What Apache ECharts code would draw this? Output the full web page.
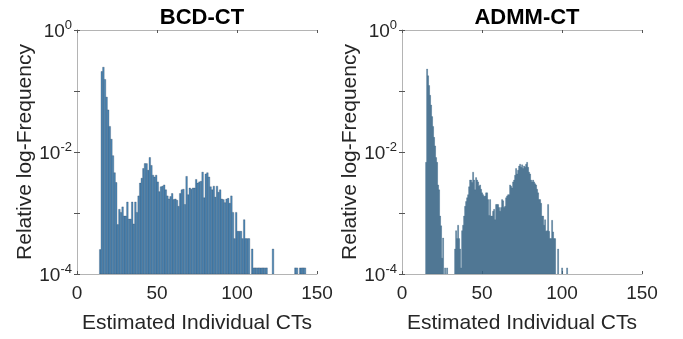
<!DOCTYPE html>
<html>
<head>
<meta charset="utf-8">
<script src="https://cdn.jsdelivr.net/npm/echarts@6/dist/echarts.min.js"></script>
<style>
html,body{margin:0;padding:0;background:#fff;}
#c{width:683px;height:339px;}
</style>
</head>
<body>
<div id="c"></div>
<script>
// ---- Data ----
const titles = ['BCD-CT', 'ADMM-CT'];
const xTickValues = [0, 50, 100, 150];
const yTickExponents = [0, -2, -4];

// BCD-CT histogram: bins of width 1 starting at 14, values = log10(relative frequency), null = empty bin
const bcdBinStart = 14;
const bcdBinWidth = 1;
const bcdLog10Freq = [
  -3.6, -0.68, -0.61, -0.81, -1.10, -1.31, -1.58, -1.79, -2.06, -2.34, -2.50, -3.19, // 14-25
  -2.94, -2.99, -2.90, -3.05, -3.05, -2.82, -3.10, -3.10, -2.82, -3.18,              // 26-35
  -2.82, -2.99, -2.72, -2.51, -2.43, -2.27, -2.19, -2.19, -2.30, -2.09,              // 36-45
  -2.22, -2.38, -2.41, -2.38, -2.49,                                                 // 46-50
  -2.65, -2.57, -2.56, -2.54, -2.62, -2.72, -2.77, -2.73, -2.68, -2.78,              // 51-60
  -2.77, -2.79, -2.89, -2.68, -2.62, -2.61, -2.86, -2.40, -2.70, -2.59,              // 61-70
  -2.61, -2.59, -2.59, -2.45, -2.51, -2.49, -2.48, -2.33, -2.75, -2.36,              // 71-80
  -2.34, -2.41, -2.57, -2.62, -2.56, -2.74,                                          // 81-86
  -2.56, -2.66, -2.62, -2.77, -2.78, -2.83, -2.77, -2.76, -2.84, -2.72,              // 87-96
  -2.99, -3.42, -2.99, -3.30, -3.30, -3.30, -3.42, -3.11, -3.42, -3.42, -3.42,       // 97-107
  null, -3.59, -3.9, -3.9, -3.9, -3.9, -3.9, -3.9, -3.9, -3.9, -3.9,                 // 108-118
  null, null, null, -3.59,                                                           // 119-122
  null, null, null, null, null, null, null, null, null, null, null, null, null,      // 123-135
  -3.9, -3.9, null, -3.9, -3.9, -3.9, -3.9                                           // 136-142
];

// ADMM-CT histogram: bins of width 0.625 starting at 14.75
const admmBinStart = 14.75;
const admmBinWidth = 0.625;
const admmLog10Freq = [
  -2.17, -0.64, -0.75, -0.91, -1.07, -1.23, -1.42, -1.58, -1.76, -1.90,   // 0-9
  -2.09, -2.17, -2.54, -2.62, -3.05, -3.21, -3.74, -3.41, null, -3.9,      // 10-19
  null, -3.9, null, null, null, null, null, null, null,                    // 20-28
  -3.59, -3.29, -3.42, -3.20, -3.42, -3.59, -3.90, -3.29, -3.20, -3.05,    // 29-38
  -2.89, -2.81, -2.75, -2.70, -2.57, -2.46,                                // 39-44
  -2.46, -2.50, -2.33, -2.46, -2.62, -2.42, -2.46, -2.49, -2.56, -2.54,    // 45-54
  -2.61, -2.67, -2.70, -2.73, -2.72, -2.67, -2.67, -2.78, -3.04, -2.78,    // 55-64
  -3.05, -3.05, -2.97, -2.94, -3.11, -2.86, -2.86, -2.86, -2.91, -2.97,    // 65-74
  -2.91, -2.78, -2.80, -2.91, -2.89, -2.75, -2.72, -2.70, -2.70,           // 75-83
  -2.54, -2.56, -2.59, -2.49, -2.46, -2.38, -2.27, -2.36, -2.30, -2.23,    // 84-93
  -2.20, -2.25, -2.21, -2.27, -2.23, -2.25, -2.20, -2.17, -2.25, -2.33,    // 94-103
  -2.36, -2.46, -2.49, -2.46, -2.49, -2.52, -2.54, -2.61, -2.67, -2.78,    // 104-113
  -2.78, -2.84, -3.05, -3.05, -3.20, -3.11, -3.30, -3.29, -2.86, -3.30,    // 114-123
  -3.42, -3.42, -3.12, -3.31, -3.42, -3.42, null, null, -3.59, null,       // 124-133
  null, null, -3.9, null, null, null, null, -3.9                           // 134-141
];

// ---- Build ----
function toBins(start, width, logs) {
  const out = [];
  logs.forEach((e, i) => {
    if (e === null) return;
    const x0 = start + i * width;
    out.push([x0, x0 + width, Math.pow(10, e)]);
  });
  return out;
}

const YMIN = 1e-4, YMAX = 1;
const txt = '#262626';
const boxColor = '#b4b4b4';
const font = 'Liberation Sans, Arial, Helvetica, sans-serif';

const grids = [
  { left: 77, top: 30, width: 240, height: 249 },
  { left: 402, top: 30, width: 240, height: 249 }
];

function makeRender(fill, stroke, lw) {
  return function (params, api) {
    const x0 = api.value(0), x1 = api.value(1), v = api.value(2);
    const p0 = api.coord([x0, v]);
    const p1 = api.coord([x1, YMIN]);
    return {
      type: 'rect',
      shape: { x: p0[0], y: p0[1], width: p1[0] - p0[0], height: p1[1] - p0[1] },
      style: { fill: fill, stroke: stroke, lineWidth: lw }
    };
  };
}

const xAxes = [], yAxes = [];
for (let g = 0; g < 2; g++) {
  xAxes.push({
    type: 'value', gridIndex: g, min: 0, max: 150, interval: 50, position: 'bottom',
    name: 'Estimated Individual CTs', nameLocation: 'middle', nameGap: 39,
    nameTextStyle: { color: txt, fontSize: 21, fontFamily: font },
    axisLine: { show: true, lineStyle: { color: boxColor, width: 1 } },
    axisTick: { show: true, inside: true, length: 3, lineStyle: { color: '#555' } },
    axisLabel: { color: txt, fontSize: 19, fontFamily: font, margin: 10,
      formatter: v => (xTickValues.indexOf(v) >= 0 ? String(v) : '') },
    splitLine: { show: false }
  });
  xAxes.push({
    type: 'value', gridIndex: g, min: 0, max: 150, interval: 50, position: 'top',
    axisLine: { show: true, lineStyle: { color: boxColor, width: 1 } },
    axisTick: { show: true, inside: true, length: 3, lineStyle: { color: '#555' } },
    axisLabel: { show: false }, splitLine: { show: false }
  });
  yAxes.push({
    type: 'log', logBase: 10, gridIndex: g, min: YMIN, max: YMAX, position: 'left',
    name: 'Relative log-Frequency', nameLocation: 'middle', nameGap: 37,
    nameTextStyle: { color: txt, fontSize: 21, fontFamily: font },
    axisLine: { show: true, lineStyle: { color: boxColor, width: 1 } },
    axisTick: { show: true, inside: true, length: 3, lineStyle: { color: '#555' } },
    minorTick: { show: false },
    axisLabel: {
      color: txt, fontSize: 19, fontFamily: font, margin: 5,
      formatter: function (v) {
        const e = Math.round(Math.log10(v));
        if (yTickExponents.indexOf(e) < 0) return '';
        return '{b|10}{s|' + e + '}';
      },
      rich: {
        b: { fontSize: 19, color: txt, fontFamily: font, verticalAlign: 'bottom' },
        s: { fontSize: 13, color: txt, fontFamily: font, verticalAlign: 'bottom', padding: [0, 0, 10, 0] }
      }
    },
    splitLine: { show: false }
  });
  yAxes.push({
    type: 'log', logBase: 10, gridIndex: g, min: YMIN, max: YMAX, position: 'right',
    axisLine: { show: true, lineStyle: { color: boxColor, width: 1 } },
    axisTick: { show: true, inside: true, length: 3, lineStyle: { color: '#555' } },
    axisLabel: { show: false }, splitLine: { show: false }
  });
}

const option = {
  animation: false,
  backgroundColor: '#ffffff',
  title: [
    { text: titles[0], left: 197, top: 2, textAlign: 'center',
      textStyle: { fontSize: 22, fontWeight: 'bold', color: '#000', fontFamily: font } },
    { text: titles[1], left: 522, top: 2, textAlign: 'center',
      textStyle: { fontSize: 22, fontWeight: 'bold', color: '#000', fontFamily: font } }
  ],
  grid: grids,
  xAxis: xAxes,
  yAxis: yAxes,
  series: [
    { type: 'custom', xAxisIndex: 0, yAxisIndex: 0, renderItem: makeRender('#4d89b9', 'rgba(35,60,85,0.55)', 0.5),
      encode: { x: [0, 1], y: 2 }, data: toBins(bcdBinStart, bcdBinWidth, bcdLog10Freq), clip: true },
    { type: 'custom', xAxisIndex: 2, yAxisIndex: 2, renderItem: makeRender('#3f6e90', '#325d7c', 0.3),
      encode: { x: [0, 1], y: 2 }, data: toBins(admmBinStart, admmBinWidth, admmLog10Freq), clip: true }
  ]
};

const chart = echarts.init(document.getElementById('c'), null, { renderer: 'canvas' });
chart.setOption(option);
</script>
</body>
</html>
